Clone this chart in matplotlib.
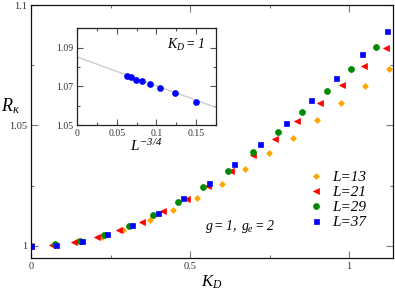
import matplotlib
matplotlib.use("Agg")
import matplotlib.pyplot as plt
from matplotlib.ticker import FixedLocator, FuncFormatter

plt.rcParams['font.family'] = ['Liberation Serif', 'DejaVu Serif']
plt.rcParams['mathtext.fontset'] = 'custom'
plt.rcParams['mathtext.rm'] = 'Liberation Serif:italic'
plt.rcParams['mathtext.it'] = 'Liberation Serif:italic'
plt.rcParams['mathtext.bf'] = 'Liberation Serif:bold'

# ---- main data ----
kd_13 = [0.0, 0.072, 0.147, 0.222, 0.290, 0.374, 0.447, 0.523, 0.600, 0.673, 0.749, 0.825, 0.900, 0.974, 1.050, 1.124]
r_13 = [1.000, 1.0005, 1.0020, 1.0039, 1.0068, 1.0106, 1.0151, 1.0201, 1.0258, 1.0319, 1.0384, 1.0450, 1.0521, 1.0593, 1.0665, 1.0735]

kd_21 = [0.0, 0.065, 0.136, 0.207, 0.277, 0.348, 0.416, 0.490, 0.557, 0.629, 0.697, 0.767, 0.837, 0.907, 0.977, 1.047, 1.116]
r_21 = [1.000, 1.0005, 1.0017, 1.0037, 1.0065, 1.0101, 1.0143, 1.0195, 1.0247, 1.0313, 1.0376, 1.0445, 1.0518, 1.0593, 1.0669, 1.0745, 1.0821]

kd_29 = [0.0, 0.0755, 0.154, 0.230, 0.308, 0.385, 0.463, 0.542, 0.619, 0.697, 0.775, 0.851, 0.930, 1.006, 1.085]
r_29 = [1.000, 1.0008, 1.0021, 1.0047, 1.0081, 1.0129, 1.0182, 1.0245, 1.0313, 1.0391, 1.0471, 1.0557, 1.0645, 1.0734, 1.0825]

kd_37 = [0.0, 0.0786, 0.159, 0.238, 0.317, 0.398, 0.479, 0.560, 0.639, 0.720, 0.801, 0.880, 0.959, 1.040, 1.120]
r_37 = [1.000, 1.0005, 1.0021, 1.0051, 1.0088, 1.0137, 1.0199, 1.0261, 1.0341, 1.0424, 1.0510, 1.0604, 1.0699, 1.0796, 1.0891]

series_labels = ['L=13', 'L=21', 'L=29', 'L=37']

# ---- inset data ----
inset_x = [0.0628, 0.0683, 0.0746, 0.0822, 0.0918, 0.105, 0.123, 0.150]
inset_y = [1.0756, 1.0747, 1.0735, 1.0727, 1.0713, 1.0692, 1.0663, 1.0621]
fit_x = [0.0, 0.175]
fit_y = [1.0852, 1.0591]

main_xticks = [0, 0.5, 1]
main_yticks = [1.0, 1.05, 1.1]
inset_xticks = [0, 0.05, 0.1, 0.15]
inset_yticks = [1.05, 1.07, 1.09]

fig = plt.figure(figsize=(3.95, 2.91), dpi=100)
ax = fig.add_axes([0.0785, 0.1134, 0.9165, 0.8694])

styles = [
    (kd_13, r_13, 'D', '#FFA500', 3.0),
    (kd_21, r_21, '<', '#FF0000', 4.0),
    (kd_29, r_29, 'o', '#008800', 4.3),
    (kd_37, r_37, 's', '#0000FF', 3.6),
]
for (x, y, m, c, ms), lab in zip(styles, series_labels):
    ax.plot(x, y, linestyle='none', marker=m, color=c, markersize=ms,
            markeredgewidth=0.5, label=lab)

ax.set_xlim(0, 1.138)
ax.set_ylim(0.995, 1.1)
ax.xaxis.set_major_locator(FixedLocator(main_xticks))
ax.xaxis.set_minor_locator(FixedLocator([0.25, 0.75]))
ax.yaxis.set_major_locator(FixedLocator(main_yticks))
ax.yaxis.set_minor_locator(FixedLocator([1.025, 1.075]))
fmt = FuncFormatter(lambda v, p: '%g' % v)
ax.xaxis.set_major_formatter(fmt)
ax.yaxis.set_major_formatter(fmt)
ax.tick_params(which='both', direction='in', top=True, right=True, labelsize=7.5, colors='#333333', pad=3)
ax.tick_params(which='major', length=5, width=0.8, color='#777777')
ax.tick_params(which='minor', length=2.5, width=0.8, color='#777777')
for s in ax.spines.values():
    s.set_linewidth(0.9)
    s.set_color('#111111')

ax.set_xlabel(r'$K_D$', fontsize=12, labelpad=2)
ax.text(-0.055, 0.6, r'$R_\kappa$', transform=ax.transAxes, fontsize=13, ha='center', va='center')
ax.text(0.48, 0.126, r'$g{=}1,\ g_e{=}2$', transform=ax.transAxes, fontsize=10, ha='left', va='center')

leg = ax.legend(loc='upper left', bbox_to_anchor=(0.765, 0.345), frameon=False,
                handlelength=1.0, handletextpad=0.6, labelspacing=0.08,
                prop={'style': 'italic', 'size': 11},
                borderaxespad=0, borderpad=0)

# ---- inset ----
ins = fig.add_axes([0.1949, 0.5704, 0.3519, 0.3323])
ins.plot(fit_x, fit_y, color='#cccccc', linewidth=1.0)
ins.plot(inset_x, inset_y, linestyle='none', marker='o', color='#0000FF', markersize=3.8)
ins.set_xlim(0, 0.175)
ins.set_ylim(1.05, 1.1)
ins.xaxis.set_major_locator(FixedLocator(inset_xticks))
ins.xaxis.set_minor_locator(FixedLocator([0.025, 0.075, 0.125, 0.175]))
ins.yaxis.set_major_locator(FixedLocator(inset_yticks))
ins.yaxis.set_minor_locator(FixedLocator([1.06, 1.08, 1.1]))
ins.xaxis.set_major_formatter(fmt)
ins.yaxis.set_major_formatter(fmt)
ins.tick_params(which='both', direction='in', top=True, right=True, labelsize=7, colors='#333333', pad=3)
ins.tick_params(which='major', length=4, width=0.8, color='#555555')
ins.tick_params(which='minor', length=2.5, width=0.8, color='#555555')
for s in ins.spines.values():
    s.set_linewidth(0.9)
    s.set_color('#222222')
ins.set_xlabel(r'$L^{-3/4}$', fontsize=11, labelpad=0)
ins.text(0.92, 0.83, r'$K_D{=}1$', transform=ins.transAxes, fontsize=10, ha='right', va='center')

fig.savefig('out.png', dpi=100)
